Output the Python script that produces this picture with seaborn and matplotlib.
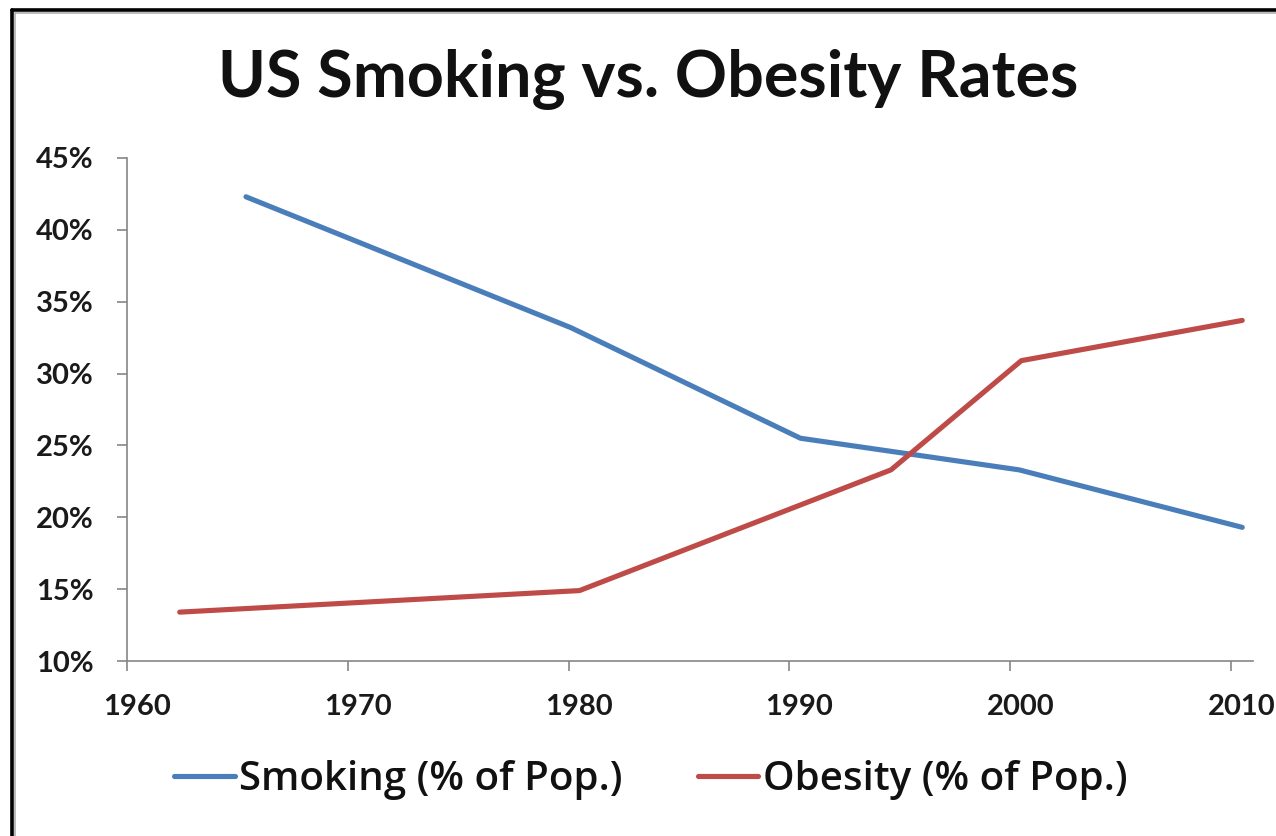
import matplotlib
matplotlib.use("Agg")
import matplotlib.pyplot as plt
import matplotlib.transforms as mtransforms
from matplotlib.lines import Line2D
from matplotlib.ticker import FuncFormatter, MultipleLocator
import numpy as np
import pandas as pd
import seaborn as sns

# Survey years and prevalence (percent of population)
smoking_years = [1965.4, 1980.1, 1990.5, 2000.4, 2010.5]
smoking_pct = [42.3, 33.2, 25.5, 23.3, 19.3]
obesity_years = [1962.4, 1980.5, 1994.6, 2000.5, 2010.5]
obesity_pct = [13.4, 14.9, 23.3, 30.9, 33.7]

series_names = ["Smoking (% of Pop.)", "Obesity (% of Pop.)"]
series_colors = ["#4A7EBB", "#BE4B48"]
year_ticks = [1960, 1970, 1980, 1990, 2000, 2010]

title_text = "US Smoking vs. Obesity Rates"

df = pd.concat([
    pd.DataFrame({"year": smoking_years, "pct": smoking_pct, "series": series_names[0]}),
    pd.DataFrame({"year": obesity_years, "pct": obesity_pct, "series": series_names[1]}),
], ignore_index=True)

sns.set_style("ticks")
plt.rcParams["font.family"] = ["Lato", "DejaVu Sans"]

W, H = 1276, 836
fig = plt.figure(figsize=(W / 100, H / 100), dpi=100)
fig.patch.set_facecolor("white")

left_px, right_px, top_px, bottom_px = 126.7, 1253, 158, 661
ax = fig.add_axes([left_px / W, 1 - bottom_px / H,
                   (right_px - left_px) / W, (bottom_px - top_px) / H])

palette = dict(zip(series_names, series_colors))
sns.lineplot(data=df, x="year", y="pct", hue="series", palette=palette,
             linewidth=3.7, sort=False, ax=ax, legend=False)

ax.set_xlim(1960, 1960 + (right_px - left_px) / 22.09)
ax.set_ylim(10, 45)
ax.set_xticks(year_ticks)
ax.yaxis.set_major_locator(MultipleLocator(5))
ax.yaxis.set_major_formatter(FuncFormatter(lambda v, p: f"{v:.0f}%"))
ax.set_xlabel("")
ax.set_ylabel("")

axis_gray = "#868686"
for side in ["top", "right"]:
    ax.spines[side].set_visible(False)
for side in ["left", "bottom"]:
    ax.spines[side].set_color(axis_gray)
    ax.spines[side].set_linewidth(1.2)

ax.tick_params(axis="both", direction="out", length=7, width=1.2,
               color=axis_gray, labelsize=21, labelcolor="#1A1A1A")
ax.tick_params(axis="y", pad=17)
ax.tick_params(axis="x", pad=17)
for lab in ax.get_xticklabels() + ax.get_yticklabels():
    lab.set_fontweight("bold")

# year labels sit slightly right of their ticks
shift = mtransforms.ScaledTranslation(10 / 100, 0, fig.dpi_scale_trans)
for lab in ax.get_xticklabels():
    lab.set_transform(lab.get_transform() + shift)

fig.text(648.5 / W, 1 - 97 / H, title_text, ha="center", va="baseline",
         fontsize=46.5, fontweight="bold", color="#111111")

handles = [Line2D([], [], color=c, linewidth=3.7) for c in series_colors]
fig.legend(handles, series_names, loc="center",
           bbox_to_anchor=(651 / W, 1 - 780 / H), ncol=2, frameon=False,
           prop={"family": ["Open Sans", "DejaVu Sans"], "size": 29,
                 "weight": "semibold"},
           handlelength=1.5, handletextpad=0.12, columnspacing=1.86,
           labelcolor="#111111")

# chart border (left and top edges)
fig.add_artist(Line2D([12 / W, 12 / W], [0, 1 - 9.5 / H], color="black",
                      linewidth=2.6, transform=fig.transFigure))
fig.add_artist(Line2D([12 / W, 1], [1 - 9.5 / H, 1 - 9.5 / H], color="black",
                      linewidth=2.6, transform=fig.transFigure))
fig.add_artist(Line2D([15.5 / W, 15.5 / W], [0, 1 - 12.5 / H], color="#A8A8A8",
                      linewidth=1.1, transform=fig.transFigure))
fig.add_artist(Line2D([15.5 / W, 1], [1 - 12.5 / H, 1 - 12.5 / H], color="#A8A8A8",
                      linewidth=1.1, transform=fig.transFigure))

fig.savefig("out.png", dpi=100, facecolor="white")
